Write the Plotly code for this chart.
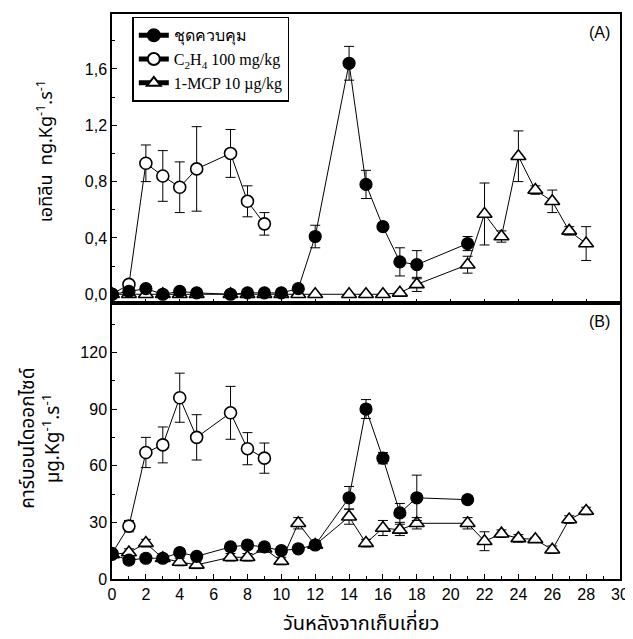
import plotly.graph_objects as go
from plotly.subplots import make_subplots

# ---------- data ----------
days_ctrl = [0, 1, 2, 3, 4, 5, 7, 8, 9, 10, 11, 12, 14, 15, 16, 17, 18, 21]
days_c2h4 = [0, 1, 2, 3, 4, 5, 7, 8, 9]
days_mcp = [0, 1, 2, 3, 4, 5, 7, 8, 9, 10, 11, 12, 14, 15, 16, 17, 18, 21, 22, 23, 24, 25, 26, 27, 28]

eth_ctrl = [0.0, 0.02, 0.04, 0.0, 0.02, 0.01, 0.0, 0.01, 0.01, 0.01, 0.04, 0.41, 1.64, 0.78, 0.48, 0.23, 0.21, 0.36]
eth_ctrl_err = [0.0, 0.01, 0.02, 0.01, 0.01, 0.01, 0.01, 0.01, 0.01, 0.01, 0.01, 0.08, 0.12, 0.10, 0.02, 0.10, 0.10, 0.05]
eth_c2h4 = [0.0, 0.07, 0.93, 0.84, 0.76, 0.89, 1.0, 0.66, 0.50]
eth_c2h4_err = [0.0, 0.02, 0.13, 0.18, 0.18, 0.30, 0.17, 0.11, 0.08]
eth_mcp = [0.0, 0.0, 0.0, 0.0, 0.0, 0.0, 0.0, 0.0, 0.0, 0.0, 0.0, 0.0, 0.0, 0.0, 0.0, 0.01, 0.07,
           0.21, 0.57, 0.41, 0.98, 0.74, 0.66, 0.45, 0.36]
eth_mcp_err = [0.0, 0.0, 0.0, 0.0, 0.0, 0.0, 0.0, 0.0, 0.0, 0.0, 0.0, 0.0, 0.0, 0.0, 0.0, 0.01, 0.05,
               0.06, 0.22, 0.04, 0.18, 0.03, 0.08, 0.03, 0.12]

co2_ctrl = [13, 10, 11, 11, 14, 12, 17, 18, 17, 15, 16, 18, 43, 90, 64, 35, 43, 42]
co2_ctrl_err = [1, 2, 2, 1, 2, 1, 2, 2, 2, 2, 1, 2, 6, 5, 3, 5, 12, 2]
co2_c2h4 = [13.5, 28, 67, 71, 96, 75, 88, 69, 64]
co2_c2h4_err = [1, 3, 8, 9.5, 13, 12, 14, 8.5, 8]
co2_mcp = [13, 14, 19, 11, 9, 7.5, 11.5, 11.5, 16, 9.5, 29.5, 18, 33, 19, 27, 26, 29.5,
           29.5, 20, 24, 21.5, 21, 15.5, 31.5, 36]
co2_mcp_err = [1, 2, 2, 1, 2, 2, 2, 2, 1, 2, 3, 1, 4, 2, 4, 3, 3, 3, 5, 2, 2, 1, 2, 2, 2]

names = ["ชุดควบคุม", "C<sub>2</sub>H<sub>4</sub> 100 mg/kg", "1-MCP 10 µg/kg"]
x_ticks = list(range(0, 31, 2))
eth_ticks = [0.0, 0.4, 0.8, 1.2, 1.6]
eth_ticktext = ["0,0", "0,4", "0,8", "1,2", "1,6"]
co2_ticks = [0, 30, 60, 90, 120]

# ---------- figure ----------
fig = make_subplots(rows=2, cols=1, shared_xaxes=True, vertical_spacing=0,
                    row_heights=[0.512, 0.488])

styles = [
    dict(symbol="circle", color="black", line=dict(color="black", width=1.2), size=12),
    dict(symbol="circle", color="white", line=dict(color="black", width=1.6), size=12),
    dict(symbol="triangle-up", color="white", line=dict(color="black", width=1.6), size=13),
]

panels = [
    (1, [(days_ctrl, eth_ctrl, eth_ctrl_err), (days_c2h4, eth_c2h4, eth_c2h4_err),
         (days_mcp, eth_mcp, eth_mcp_err)]),
    (2, [(days_ctrl, co2_ctrl, co2_ctrl_err), (days_c2h4, co2_c2h4, co2_c2h4_err),
         (days_mcp, co2_mcp, co2_mcp_err)]),
]

order = [2, 1, 0]  # draw triangles first, filled circles on top
for row, series in panels:
    for i in order:
        xs, ys, es = series[i]
        fig.add_trace(go.Scatter(
            x=xs, y=ys, mode="lines+markers", name=names[i],
            line=dict(color="black", width=1),
            marker=styles[i],
            error_y=dict(type="data", array=es, visible=True, color="black",
                         thickness=1, width=5),
            showlegend=(row == 1), legendrank=i + 1,
        ), row=row, col=1)

axis_common = dict(showline=True, linecolor="black", linewidth=1.5, mirror=True,
                   ticks="inside", ticklen=5, tickcolor="black", showgrid=False,
                   zeroline=False, tickfont=dict(family="Liberation Sans", size=16, color="black"))

fig.update_xaxes(range=[0, 30], tickvals=x_ticks, ticklabeloverflow="allow", **axis_common,
                 minor=dict(ticks="inside", ticklen=3, dtick=1, tickcolor="black"))
fig.update_xaxes(showticklabels=False, row=1, col=1)
fig.update_yaxes(range=[-0.064, 1.99], tickvals=eth_ticks, ticktext=eth_ticktext,
                 minor=dict(ticks="inside", ticklen=3, dtick=0.2, tickcolor="black"),
                 row=1, col=1, **axis_common)
fig.update_yaxes(range=[0, 146], tickvals=co2_ticks,
                 minor=dict(ticks="inside", ticklen=3, dtick=15, tickcolor="black"),
                 row=2, col=1, **axis_common)

thai = "Noto Sans Thai, Loma, Garuda, Tlwg Typo, sans-serif"
fig.add_annotation(text="เอทิลีน  ng.Kg<sup>-1</sup>.s<sup>-1</sup>", xref="paper", yref="paper",
                   x=-0.13, y=0.757, xanchor="center", yanchor="middle",
                   textangle=-90, showarrow=False,
                   font=dict(family=thai, size=18, color="black"))
fig.add_annotation(text="คาร์บอนไดออกไซด์<br>µg.Kg<sup>-1</sup>.s<sup>-1</sup>", xref="paper", yref="paper",
                   x=-0.14, y=0.25, xanchor="center", yanchor="middle",
                   textangle=-90, showarrow=False,
                   font=dict(family=thai, size=19, color="black"))
fig.add_annotation(text="วันหลังจากเก็บเกี่ยว", xref="paper", yref="paper",
                   x=0.49, y=-0.11, xanchor="center", yanchor="bottom", showarrow=False,
                   font=dict(family=thai, size=20, color="black"))
fig.add_annotation(text="(A)", xref="paper", yref="paper", x=0.985, y=0.985,
                   xanchor="right", yanchor="top", showarrow=False,
                   font=dict(family="Liberation Sans", size=16, color="black"))
fig.add_annotation(text="(B)", xref="paper", yref="paper", x=0.985, y=0.475,
                   xanchor="right", yanchor="top", showarrow=False,
                   font=dict(family="Liberation Sans", size=16, color="black"))

# page body adds an 8px margin; size the figure so it fits the 633x639 window
fig.update_layout(
    width=625, height=631,
    margin=dict(l=104, r=10, t=4, b=60),
    plot_bgcolor="white", paper_bgcolor="white",
    legend=dict(x=0.04, y=0.995, xanchor="left", yanchor="top",
                bordercolor="black", borderwidth=1.5, bgcolor="white",
                font=dict(family="Liberation Serif", size=16, color="black"),
                tracegroupgap=0, itemsizing="constant", itemwidth=30),
)

fig.write_html("out.html")
